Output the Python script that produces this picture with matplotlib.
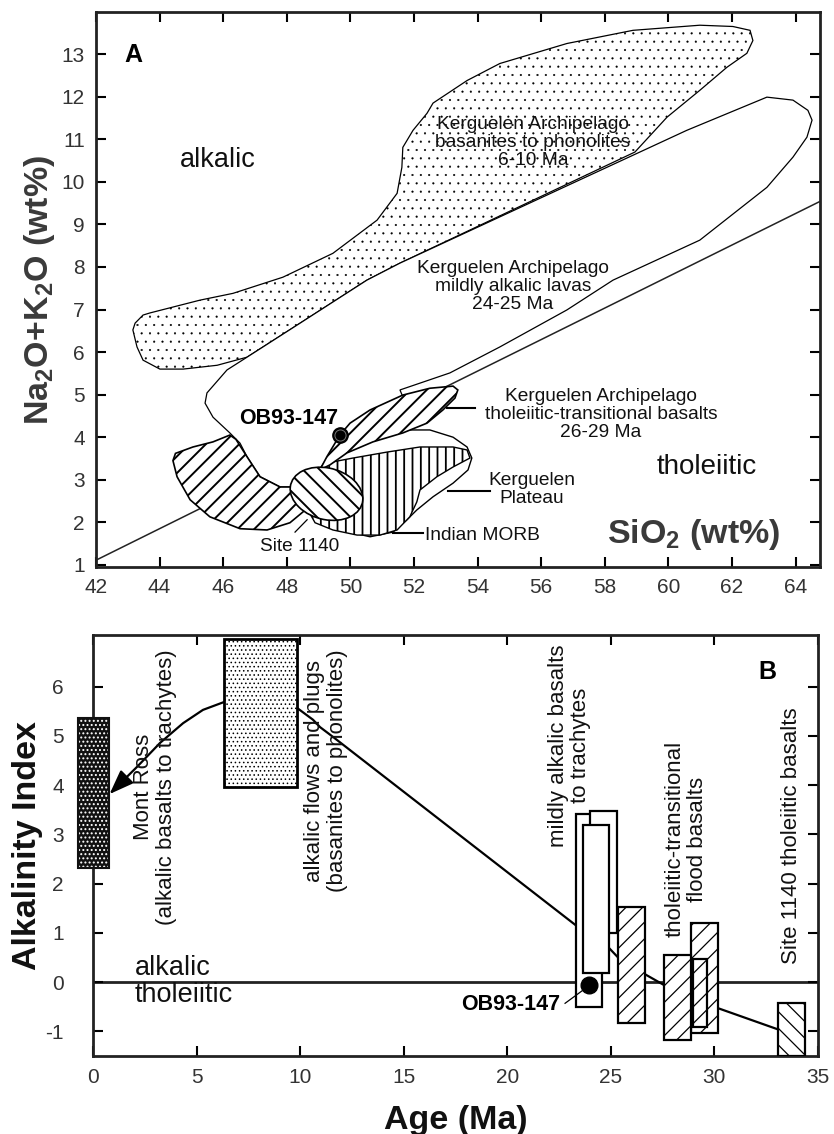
import matplotlib
matplotlib.use('Agg')
import matplotlib.pyplot as plt
from matplotlib.patches import Polygon, Rectangle, Ellipse

plt.rcParams['font.family'] = ['Liberation Sans', 'DejaVu Sans']
plt.rcParams['mathtext.fontset'] = 'custom'
plt.rcParams['mathtext.default'] = 'bf'
plt.rcParams['mathtext.bf'] = 'Liberation Sans:bold'
plt.rcParams['axes.unicode_minus'] = False

# ---------------- panel A data (SiO2, Na2O+K2O outlines)
basanite_field = [(43.16, 6.52), (43.23, 6.68), (43.48, 6.87), (43.70, 6.92), (45.27, 7.22),
                  (46.31, 7.38), (47.88, 7.76), (49.45, 8.32), (50.84, 9.10), (51.47, 9.73),
                  (51.62, 10.34), (51.65, 10.81), (51.97, 11.21), (52.41, 11.61), (52.60, 11.85),
                  (53.67, 12.38), (54.70, 12.78), (56.81, 13.25), (58.89, 13.56), (60.99, 13.68),
                  (62.03, 13.65), (62.57, 13.56), (62.66, 13.32), (62.47, 13.02), (61.84, 12.69),
                  (60.99, 12.15), (59.96, 11.52), (58.95, 10.70), (51.56, 8.09), (50.52, 7.69),
                  (48.42, 6.68), (46.75, 5.88), (45.81, 5.69), (44.74, 5.60), (44.01, 5.60),
                  (43.48, 5.81), (43.29, 6.12)]
mildly_alkalic_field = [(45.49, 5.04), (46.12, 5.58), (46.75, 5.88), (48.42, 6.68), (50.52, 7.69),
                        (51.56, 8.09), (60.58, 11.21), (63.10, 11.99), (63.92, 11.92), (64.39, 11.68),
                        (64.52, 11.45), (64.36, 11.05), (63.92, 10.58), (63.10, 9.87), (60.99, 8.63),
                        (58.26, 7.69), (56.81, 6.99), (54.70, 6.12), (53.13, 5.51), (51.56, 5.11),
                        (51.65, 4.95), (50.62, 4.60), (49.99, 4.30), (49.67, 4.00), (49.26, 3.50),
                        (48.90, 3.10), (48.40, 2.95), (48.10, 2.83), (47.79, 2.83), (47.16, 3.07),
                        (46.75, 3.54), (46.53, 3.86), (46.21, 4.10), (45.68, 4.47), (45.43, 4.80)]
kerguelen_plateau = [(49.11, 3.32), (49.67, 3.70), (50.62, 4.00), (51.65, 4.17), (52.50, 4.17),
                     (53.23, 4.00), (53.67, 3.77), (53.82, 3.51), (53.70, 3.23), (53.23, 2.92),
                     (52.60, 2.60), (52.09, 2.29), (51.78, 2.06), (51.34, 1.77), (50.62, 1.66),
                     (49.67, 1.82), (49.36, 2.53)]
indian_morb = [(49.45, 3.42), (50.08, 3.51), (51.15, 3.65), (52.19, 3.77), (53.23, 3.77),
               (53.67, 3.70), (53.76, 3.51), (53.23, 3.30), (52.72, 3.07), (52.19, 2.76),
               (52.09, 2.48), (51.87, 2.13), (51.47, 1.82), (50.93, 1.70), (50.21, 1.70),
               (49.45, 1.82), (48.89, 1.99), (48.57, 2.41), (48.73, 3.11)]
thol_trans_field = [(49.04, 3.23), (49.26, 3.54), (49.67, 4.05), (49.99, 4.33), (50.62, 4.64),
                    (51.65, 4.99), (52.50, 5.15), (53.23, 5.20), (53.38, 5.11), (53.29, 4.92),
                    (52.91, 4.64), (52.41, 4.33), (51.65, 4.10), (50.71, 3.89), (49.89, 3.63),
                    (49.36, 3.35)]
left_field = [(44.42, 3.45), (44.50, 3.62), (45.05, 3.77), (45.68, 3.89), (46.21, 4.05),
              (46.40, 3.95), (46.75, 3.54), (47.16, 3.07), (47.79, 2.83), (48.30, 2.83),
              (48.60, 2.30), (48.10, 1.99), (47.38, 1.82), (46.53, 1.85), (45.58, 2.13),
              (44.96, 2.53), (44.55, 3.07)]
site1140_center = (49.25, 2.67)
site1140_size = (2.3, 1.22)
divide_x = [42.0, 64.77]
divide_y = [1.11, 9.54]
ob93_top = (49.67, 4.05)

# ---------------- panel B data (age, alkalinity index)
# boxes: (age_min, age_max, ai_min, ai_max)
mont_ross = (-0.72, 0.77, 2.32, 5.37)
alkalic_flows = (6.33, 9.85, 3.96, 6.97)
mildly_boxes = [(23.32, 24.58, -0.51, 3.41), (24.0, 25.3, 1.0, 3.48), (23.66, 24.92, 0.18, 3.19)]
thol_boxes = [(25.35, 26.65, -0.83, 1.52), (28.87, 30.18, -1.04, 1.20),
              (28.97, 29.65, -0.91, 0.47), (27.57, 28.87, -1.18, 0.55)]
site1140_box = (33.07, 34.38, -1.5, -0.43)
trend_left = [(6.33, 5.69), (5.31, 5.53), (4.35, 5.26), (3.24, 4.86), (2.12, 4.37), (1.35, 4.05)]
trend_arrow_tip = (0.80, 3.82)
trend_segments = [[(9.85, 5.57), (10.62, 5.33), (10.96, 5.18), (11.59, 4.98), (23.66, 1.04)],
                  [(24.92, 0.69), (25.35, 0.50)],
                  [(26.65, 0.16), (27.57, -0.06)],
                  [(30.18, -0.53), (33.07, -0.96)]]
ob93_bottom = (23.95, -0.06)


def hatch_lw(p, w):
    if hasattr(p, 'set_hatch_linewidth'):
        p.set_hatch_linewidth(w)
    return p


tick_col = '#333333'
lab_col = '#3a3a3a'

fig = plt.figure(figsize=(8.34, 11.34), dpi=100)

# ===================== panel A
ax1 = fig.add_axes([0.1151, 0.5, 0.8681, 0.4894])
ax1.set_xlim(42, 64.77)
ax1.set_ylim(0.95, 13.99)

ax1.plot(divide_x, divide_y, color='#222222', lw=1.1, zorder=1)

p = Polygon(basanite_field, closed=True, facecolor='white', edgecolor='black', lw=0.9,
            hatch='..', zorder=2)
ax1.add_patch(hatch_lw(p, 0.3))
ax1.add_patch(Polygon(mildly_alkalic_field, closed=True, facecolor='white', edgecolor='black',
                      lw=0.9, zorder=3))
ax1.add_patch(Polygon(kerguelen_plateau, closed=True, facecolor='white', edgecolor='black',
                      lw=1.0, zorder=4))
p = Polygon(indian_morb, closed=True, facecolor='white', edgecolor='black', lw=1.0,
            hatch='||', zorder=5)
ax1.add_patch(hatch_lw(p, 1.3))
p = Polygon(thol_trans_field, closed=True, facecolor='white', edgecolor='black', lw=1.2,
            hatch='//', zorder=6)
ax1.add_patch(hatch_lw(p, 1.4))
p = Polygon(left_field, closed=True, facecolor='white', edgecolor='black', lw=1.2,
            hatch='//', zorder=6)
ax1.add_patch(hatch_lw(p, 1.4))
p = Ellipse(site1140_center, site1140_size[0], site1140_size[1], angle=-8,
            facecolor='white', edgecolor='black', lw=1.2, hatch='\\\\', zorder=7)
ax1.add_patch(hatch_lw(p, 1.4))

ax1.plot([ob93_top[0]], [ob93_top[1]], 'o', ms=11, mfc='black', mec='black', zorder=9)
ax1.plot([ob93_top[0]], [ob93_top[1]], 'o', ms=8, mfc='black', mec='#777777', mew=0.7, zorder=10)

# leader lines
ax1.plot([53.04, 53.92], [4.69, 4.69], color='black', lw=1.5, zorder=8)
ax1.plot([53.07, 54.39], [2.74, 2.74], color='black', lw=1.5, zorder=8)
ax1.plot([51.34, 52.28], [1.75, 1.75], color='black', lw=1.5, zorder=8)
ax1.plot([48.64, 48.26], [2.06, 1.77], color='black', lw=0.9, zorder=8)

ann = dict(ha='center', va='center', fontsize=13.8, color='#111111', linespacing=1.08, zorder=11)
ax1.text(55.74, 10.93, 'Kerguelen Archipelago\nbasanites to phonolites\n6-10 Ma', **ann)
ax1.text(55.11, 7.55, 'Kerguelen Archipelago\nmildly alkalic lavas\n24-25 Ma', **ann)
ax1.text(57.88, 4.54, 'Kerguelen Archipelago\ntholeiitic-transitional basalts\n26-29 Ma', **ann)
ax1.text(55.71, 2.78, 'Kerguelen\nPlateau', **ann)
ax1.text(54.14, 1.70, 'Indian MORB', **ann)
ax1.text(48.42, 1.42, 'Site 1140', **ann)
ax1.text(45.84, 10.51, 'alkalic', ha='center', va='center', fontsize=19.5, color='#111111')
ax1.text(61.21, 3.30, 'tholeiitic', ha='center', va='center', fontsize=20, color='#111111')
ax1.text(43.16, 12.97, 'A', ha='center', va='center', fontsize=18, fontweight='bold')
ax1.text(48.07, 4.45, 'OB93-147', ha='center', va='center', fontsize=15.5, fontweight='bold',
         zorder=11)
ax1.text(60.8, 1.72, 'SiO$_2$ (wt%)', ha='center', va='center', fontsize=24.5,
         fontweight='bold', color=lab_col)
ax1.set_ylabel('Na$_2$O+K$_2$O (wt%)', fontsize=24.5, fontweight='bold', color=lab_col)
ax1.yaxis.set_label_coords(-0.054, 0.5)

ax1.set_xticks(range(42, 65, 2))
ax1.set_yticks(range(1, 14))
ax1.tick_params(direction='in', length=7, width=1.5, top=True, right=True,
                labelsize=15, labelcolor=tick_col, pad=8)
for s in ax1.spines.values():
    s.set_linewidth(2)
    s.set_color('#222222')

# ===================== panel B
ax2 = fig.add_axes([0.1115, 0.0688, 0.8693, 0.3712])
ax2.set_xlim(0, 35)
ax2.set_ylim(-1.5, 7.05)

ax2.axhline(0, color='#222222', lw=2, zorder=1)

xs, ys = zip(*trend_left)
ax2.plot(xs, ys, color='black', lw=1.6, zorder=2, clip_on=False)
ax2.annotate('', xy=trend_arrow_tip, xytext=trend_left[-1],
             arrowprops=dict(arrowstyle='-|>,head_length=0.75,head_width=0.28',
                             color='black', lw=1.6, shrinkA=0, shrinkB=0, mutation_scale=20),
             zorder=6, annotation_clip=False)
for seg in trend_segments:
    xs, ys = zip(*seg)
    ax2.plot(xs, ys, color='black', lw=1.6, zorder=2)

# Mont Ross: black with white dots
x0, x1, y0, y1 = mont_ross
p = Rectangle((x0, y0), x1 - x0, y1 - y0, facecolor='#111111', edgecolor='white', lw=0,
              hatch='....', zorder=3, clip_on=False)
ax2.add_patch(hatch_lw(p, 0.9))
ax2.add_patch(Rectangle((x0, y0), x1 - x0, y1 - y0, facecolor='none', edgecolor='#111111',
                        lw=1.5, zorder=4, clip_on=False))

x0, x1, y0, y1 = alkalic_flows
p = Rectangle((x0, y0), x1 - x0, y1 - y0, facecolor='white', edgecolor='black', lw=2,
              hatch='....', zorder=3)
ax2.add_patch(hatch_lw(p, 0.6))

for i, (x0, x1, y0, y1) in enumerate(mildly_boxes):
    ax2.add_patch(Rectangle((x0, y0), x1 - x0, y1 - y0, facecolor='white', edgecolor='black',
                            lw=1.6, zorder=3 + i))

for i, (x0, x1, y0, y1) in enumerate(thol_boxes):
    p = Rectangle((x0, y0), x1 - x0, y1 - y0, facecolor='white', edgecolor='black', lw=1.6,
                  hatch='//', zorder=3 + i)
    ax2.add_patch(hatch_lw(p, 0.9))

x0, x1, y0, y1 = site1140_box
p = Rectangle((x0, y0), x1 - x0, y1 - y0, facecolor='white', edgecolor='black', lw=1.6,
              hatch='\\\\', zorder=3)
ax2.add_patch(hatch_lw(p, 0.9))

ax2.plot([ob93_bottom[0]], [ob93_bottom[1]], 'o', ms=12, mfc='black', mec='black', zorder=8)
ax2.plot([22.79, 23.6], [-0.43, -0.18], color='black', lw=0.9, zorder=8)
ax2.text(22.55, -0.45, 'OB93-147', ha='right', va='center', fontsize=15.5, fontweight='bold')

vt = dict(rotation=90, ha='center', va='center', fontsize=16, color='#111111',
          linespacing=1.1, multialignment='center', zorder=9)
ax2.text(3.0, 3.96, 'Mont Ross\n(alkalic basalts to trachytes)', **vt)
ax2.text(11.25, 4.29, 'alkalic flows and plugs\n(basanites to phonolites)', **vt)
ax2.text(23.0, 4.8, 'mildly alkalic basalts\nto trachytes', **vt)
ax2.text(28.63, 2.9, 'tholeiitic-transitional\nflood basalts', **vt)
ax2.text(33.7, 2.97, 'Site 1140 tholeiitic basalts', **vt)

ax2.text(2.03, 0.28, 'alkalic', ha='left', va='center', fontsize=19.5, color='#111111')
ax2.text(2.03, -0.27, 'tholeiitic', ha='left', va='center', fontsize=19.5, color='#111111')
ax2.text(32.55, 6.3, 'B', ha='center', va='center', fontsize=18, fontweight='bold')

ax2.set_xticks(range(0, 36, 5))
ax2.set_yticks(range(-1, 7))
ax2.tick_params(direction='in', length=7, width=1.5, top=True, right=True,
                labelsize=15, labelcolor=tick_col)
ax2.tick_params(axis='x', pad=9)
ax2.tick_params(axis='y', pad=21)
ax2.set_xlabel('Age (Ma)', fontsize=24.5, fontweight='bold', color='#111111')
ax2.xaxis.set_label_coords(0.5, -0.116)
ax2.set_ylabel('Alkalinity Index', fontsize=24.5, fontweight='bold', color='#111111')
ax2.yaxis.set_label_coords(-0.069, 0.5)
for s in ax2.spines.values():
    s.set_linewidth(2)
    s.set_color('#222222')

fig.savefig('out.png', dpi=100)
